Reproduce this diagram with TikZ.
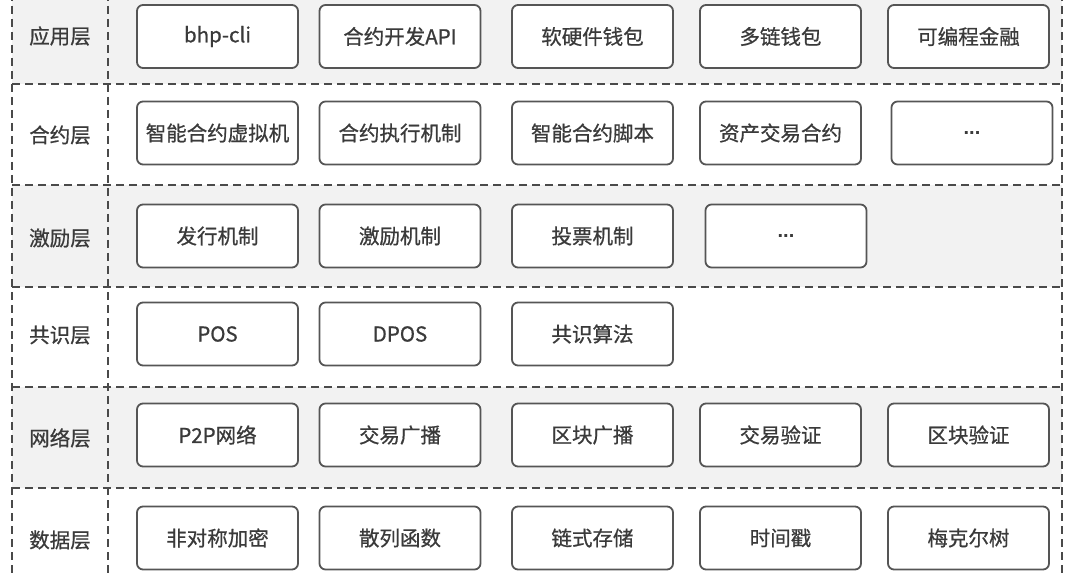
\documentclass[tikz,border=0pt]{standalone}
\usepackage{fontspec}
\newfontfamily\cjk[BoldFont={Noto Sans CJK SC}, BoldFeatures={FakeBold=0.7}]{Noto Sans CJK SC}
\newfontfamily\dotsfont{Liberation Sans}
\newcommand{\mydots}{{\dotsfont\bfseries\fontsize{20}{24}\selectfont ...}}
\definecolor{rowgray}{HTML}{F2F2F2}
\definecolor{linegray}{HTML}{4A4A4A}
\definecolor{boxline}{HTML}{555555}
\definecolor{txt}{HTML}{3A3A3A}
\tikzset{
  box/.style={draw=boxline, line width=1.8pt, rounded corners=6pt, fill=white,
    minimum width=161pt, minimum height=63pt, inner sep=0pt,
    font=\cjk\bfseries\fontsize{20.5}{24}\selectfont, text=txt},
  lbl/.style={font=\cjk\bfseries\fontsize{20.5}{24}\selectfont, text=txt, inner sep=0pt},
  sep/.style={draw=linegray, line width=1.7pt, dash pattern=on 8pt off 5pt},
  band/.style={fill=rowgray, draw=none}
}
\begin{document}
\begin{tikzpicture}[x=1pt, y=-1pt]
\useasboundingbox (0,0) rectangle (1080,575);
\clip (0,0) rectangle (1080,575);
% background bands
\fill[white] (0,0) rectangle (1080,575);
\path[band] (12,-20) rectangle (1062,84);
\path[band] (12,185) rectangle (1062,287);
\path[band] (12,387) rectangle (1062,488);
% separators
\coordinate (L0) at (12,-20); \coordinate (R0) at (1062,-20);
\coordinate (L1) at (12,84);  \coordinate (R1) at (1062,84);
\coordinate (L2) at (12,185); \coordinate (R2) at (1062,185);
\coordinate (L3) at (12,287); \coordinate (R3) at (1062,287);
\coordinate (L4) at (12,387); \coordinate (R4) at (1062,387);
\coordinate (L5) at (12,488); \coordinate (R5) at (1062,488);
\coordinate (L6) at (12,595); \coordinate (R6) at (1062,595);
\coordinate (M0) at (108,-20); \coordinate (M6) at (108,595);
\draw[sep] (L1) -- (R1);
\draw[sep] (L2) -- (R2);
\draw[sep] (L3) -- (R3);
\draw[sep] (L4) -- (R4);
\draw[sep] (L5) -- (R5);
\draw[sep] (L0) -- (L6);
\draw[sep] (M0) -- (M6);
\draw[sep] (R0) -- (R6);
% labels
\node[lbl] (l1) at (60,36) {应用层};
\node[lbl] (l2) at (60,135) {合约层};
\node[lbl] (l3) at (60,238) {激励层};
\node[lbl] (l4) at (60,335) {共识层};
\node[lbl] (l5) at (60,438) {网络层};
\node[lbl] (l6) at (60,540) {数据层};
% row 1
\node[box] (a1) at (217.5,36.5) {bhp-cli};
\node[box] (a2) at (400,36.5) {合约开发API};
\node[box] (a3) at (592.5,36.5) {软硬件钱包};
\node[box] (a4) at (780.5,36.5) {多链钱包};
\node[box] (a5) at (968.5,36.5) {可编程金融};
% row 2
\node[box] (b1) at (217.5,133) {智能合约虚拟机};
\node[box] (b2) at (400,133) {合约执行机制};
\node[box] (b3) at (592.5,133) {智能合约脚本};
\node[box] (b4) at (780.5,133) {资产交易合约};
\node[box] (b5) at (972,133) {\raisebox{-3pt}{\mydots}};
% row 3
\node[box] (c1) at (217.5,236) {发行机制};
\node[box] (c2) at (400,236) {激励机制};
\node[box] (c3) at (592.5,236) {投票机制};
\node[box] (c4) at (786,236) {\raisebox{-3pt}{\mydots}};
% row 4
\node[box] (d1) at (217.5,334) {POS};
\node[box] (d2) at (400,334) {DPOS};
\node[box] (d3) at (592.5,334) {共识算法};
% row 5
\node[box] (e1) at (217.5,435) {P2P网络};
\node[box] (e2) at (400,435) {交易广播};
\node[box] (e3) at (592.5,435) {区块广播};
\node[box] (e4) at (780.5,435) {交易验证};
\node[box] (e5) at (968.5,435) {区块验证};
% row 6
\node[box] (f1) at (217.5,538) {非对称加密};
\node[box] (f2) at (400,538) {散列函数};
\node[box] (f3) at (592.5,538) {链式存储};
\node[box] (f4) at (780.5,538) {时间戳};
\node[box] (f5) at (968.5,538) {梅克尔树};
\end{tikzpicture}
\end{document}
